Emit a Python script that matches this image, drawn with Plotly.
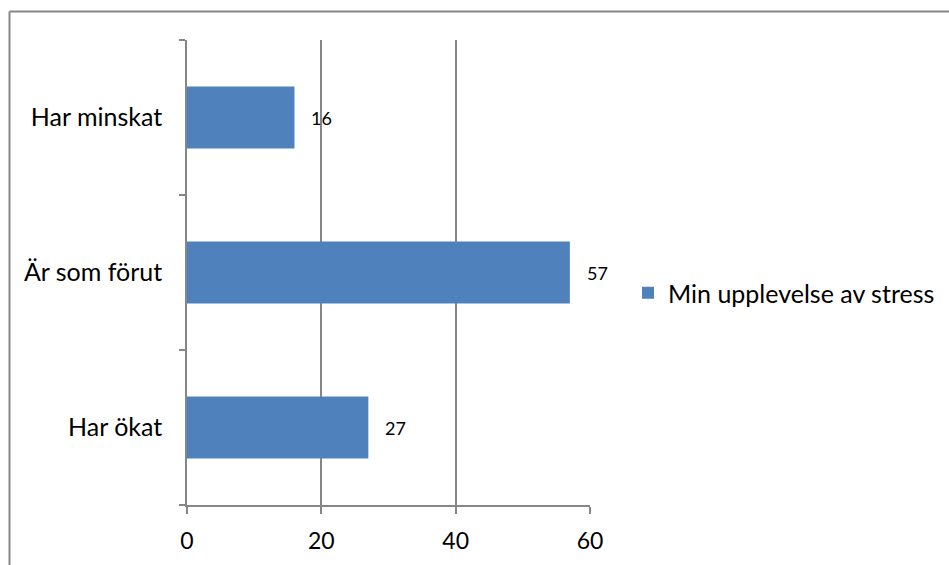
import plotly.graph_objects as go

categories = ["Har ökat", "Är som förut", "Har minskat"]
values = [27, 57, 16]
series_name = "Min upplevelse av stress"
x_ticks = [0, 20, 40, 60]

W, H = 949, 565
L, R, T, B = 187, 359, 40, 60
pw, ph = W - L - R, H - T - B

FONT = "Lato"
GRID = "#868686"

fig = go.Figure()
fig.add_trace(go.Bar(
    x=values, y=categories, orientation="h", name=series_name,
    marker=dict(color="#4F81BD", line=dict(width=0)),
    showlegend=True,
))

for c, v in zip(categories, values):
    fig.add_annotation(x=v, y=c, text=str(v), showarrow=False,
                       xanchor="left", xshift=15, yshift=0,
                       font=dict(family=FONT, size=18, color="black"))

def px_x(p):
    return (p - L) / pw

def px_y(p):
    return (H - B - p) / ph

# outer chart border (extends beyond the picture on right/bottom)
fig.add_shape(type="line", xref="paper", yref="paper",
              x0=px_x(9.5), x1=px_x(960), y0=px_y(11.5), y1=px_y(11.5),
              line=dict(color=GRID, width=2))
fig.add_shape(type="line", xref="paper", yref="paper",
              x0=px_x(9.5), x1=px_x(9.5), y0=px_y(11.5), y1=px_y(580),
              line=dict(color=GRID, width=2))

fig.update_layout(
    width=W, height=H,
    margin=dict(l=L, r=R, t=T, b=B, autoexpand=False),
    paper_bgcolor="white", plot_bgcolor="white",
    bargap=0.6,
    font=dict(family=FONT, color="black"),
    legend=dict(x=px_x(628), y=px_y(293), xanchor="left", yanchor="middle",
                font=dict(family=FONT, size=25), itemwidth=30,
                bgcolor="rgba(0,0,0,0)"),
    xaxis=dict(range=[0, 60], tickvals=x_ticks, showgrid=True, gridcolor=GRID,
               gridwidth=1.5, zeroline=False, showline=True, linecolor=GRID,
               linewidth=1.5, ticks="outside", ticklen=7, tickcolor=GRID,
               tickwidth=1.5, tickfont=dict(family=FONT, size=23),
               ticklabelstandoff=8, fixedrange=True, automargin=False),
    yaxis=dict(showgrid=False, showline=True, linecolor=GRID, linewidth=1.5,
               ticks="outside", ticklen=6, tickcolor=GRID, tickwidth=1.5,
               tickson="boundaries", tickfont=dict(family=FONT, size=25),
               ticklabelstandoff=18, zeroline=False, fixedrange=True,
               automargin=False),
)

fig.write_html("out.html")
